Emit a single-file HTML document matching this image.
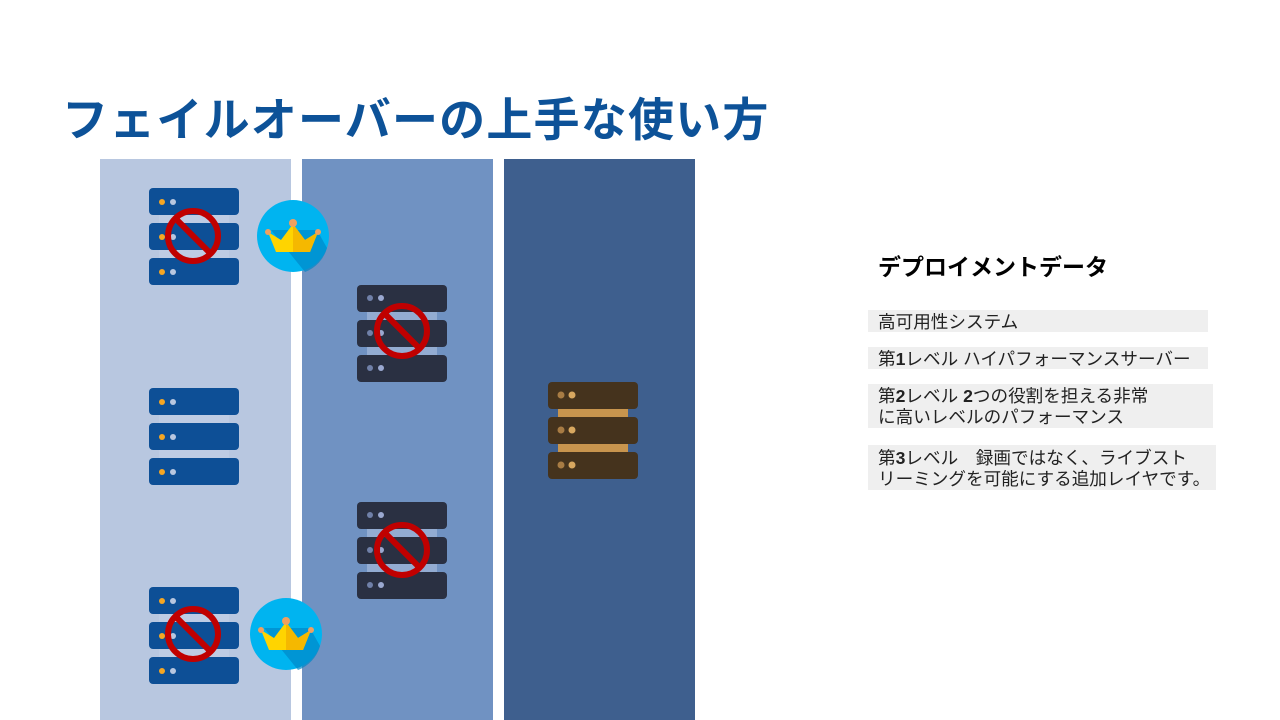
<!DOCTYPE html>
<html><head><meta charset="utf-8"><style>
body{margin:0;width:1280px;height:720px;overflow:hidden;background:#fff;font-family:"Liberation Sans","Noto Sans CJK JP",sans-serif;position:relative}
.t{position:absolute;left:62px;top:84px;font-size:46px;font-weight:bold;color:#0d5298;white-space:nowrap;letter-spacing:1.2px}
.h{position:absolute;left:878px;top:248px;font-size:23px;font-weight:bold;color:#000}
.b{position:absolute;left:868px;background:#efefef;font-size:17.6px;line-height:21px;color:#222;padding-left:10px;box-sizing:border-box;white-space:nowrap}
</style></head><body>
<svg width="1280" height="720" style="position:absolute;left:0;top:0">
<defs>
<g id="srv">
<rect x="10" y="24" width="70" height="14" fill="#c8d4ea" opacity=".4"/>
<rect x="10" y="59" width="70" height="14" fill="#c8d4ea" opacity=".4"/>
<rect x="0" y="0" width="90" height="27" rx="4"/>
<rect x="0" y="35" width="90" height="27" rx="4"/>
<rect x="0" y="70" width="90" height="27" rx="4"/>
</g>
<g id="no"><circle r="25" fill="none" stroke="#c00000" stroke-width="6"/><line x1="-17" y1="-17" x2="17" y2="17" stroke="#c00000" stroke-width="6"/></g>
<g id="crown">
<circle r="36" fill="#00b4f0"/>
<path d="M-22,-6 L12,36 A36,36 0 0 0 34,12 L24,-6 Z" fill="#0088c8" opacity=".7"/>
<path d="M-25,-4 L-17,16 L17,16 L25,-4 L12,4 L0,-12 L-12,4 Z" fill="#ffd400"/>
<path d="M0,-12 L12,4 L25,-4 L17,16 L0,16 Z" fill="#f5b800"/>
<circle cx="-25" cy="-4" r="3" fill="#f0a060"/><circle cx="25" cy="-4" r="3" fill="#f0a060"/><circle cx="0" cy="-13" r="4" fill="#f0a060"/>
</g>
</defs>
<rect x="100" y="159" width="191" height="561" fill="#b8c7e0"/>
<rect x="302" y="159" width="191" height="561" fill="#7092c2"/>
<rect x="504" y="159" width="191" height="561" fill="#3e5f8e"/>
<g fill="#0d4f96">
<use href="#srv" x="149" y="188"/><use href="#srv" x="149" y="388"/><use href="#srv" x="149" y="587"/>
</g>
<g fill="#2a3042">
<use href="#srv" x="357" y="285"/><use href="#srv" x="357" y="502"/>
</g>
<rect x="558" y="408" width="70" height="12" fill="#c8954e"/><rect x="558" y="443" width="70" height="12" fill="#c8954e"/>
<g fill="#45331d"><rect x="548" y="382" width="90" height="27" rx="4"/><rect x="548" y="417" width="90" height="27" rx="4"/><rect x="548" y="452" width="90" height="27" rx="4"/></g>
<g fill="#f5a623"><circle cx="162" cy="202" r="3"/><circle cx="162" cy="237" r="3"/><circle cx="162" cy="272" r="3"/><circle cx="162" cy="402" r="3"/><circle cx="162" cy="437" r="3"/><circle cx="162" cy="472" r="3"/><circle cx="162" cy="601" r="3"/><circle cx="162" cy="636" r="3"/><circle cx="162" cy="671" r="3"/></g>
<g fill="#b8c7e0"><circle cx="173" cy="202" r="3"/><circle cx="173" cy="237" r="3"/><circle cx="173" cy="272" r="3"/><circle cx="173" cy="402" r="3"/><circle cx="173" cy="437" r="3"/><circle cx="173" cy="472" r="3"/><circle cx="173" cy="601" r="3"/><circle cx="173" cy="636" r="3"/><circle cx="173" cy="671" r="3"/></g>
<g fill="#7080a8"><circle cx="370" cy="298" r="3"/><circle cx="370" cy="333" r="3"/><circle cx="370" cy="368" r="3"/><circle cx="370" cy="515" r="3"/><circle cx="370" cy="550" r="3"/><circle cx="370" cy="585" r="3"/></g>
<g fill="#9aa8d0"><circle cx="381" cy="298" r="3"/><circle cx="381" cy="333" r="3"/><circle cx="381" cy="368" r="3"/><circle cx="381" cy="515" r="3"/><circle cx="381" cy="550" r="3"/><circle cx="381" cy="585" r="3"/></g>
<g fill="#a87c44"><circle cx="561" cy="395" r="3.5"/><circle cx="561" cy="430" r="3.5"/><circle cx="561" cy="465" r="3.5"/></g>
<g fill="#d8a860"><circle cx="572" cy="395" r="3.5"/><circle cx="572" cy="430" r="3.5"/><circle cx="572" cy="465" r="3.5"/></g>
<use href="#no" x="193" y="236"/><use href="#no" x="193" y="634"/>
<use href="#no" x="402" y="331"/><use href="#no" x="402" y="550"/>
<use href="#crown" x="293" y="236"/><use href="#crown" x="286" y="634"/>
</svg>
<div class="t">フェイルオーバーの上手な使い方</div>
<div class="h">デプロイメントデータ</div>
<div class="b" style="top:310px;width:340px;height:22px;line-height:25px">高可用性システム</div>
<div class="b" style="top:347px;width:340px;height:22px;line-height:25px">第<b>1</b>レベル ハイパフォーマンスサーバー</div>
<div class="b" style="top:384px;width:345px;height:44px;padding-top:2px">第<b>2</b>レベル <b>2</b>つの役割を担える非常<br>に高いレベルのパフォーマンス</div>
<div class="b" style="top:445px;width:348px;height:45px;padding-top:3px">第<b>3</b>レベル　録画ではなく、ライブスト<br>リーミングを可能にする追加レイヤです。</div>
</body></html>
